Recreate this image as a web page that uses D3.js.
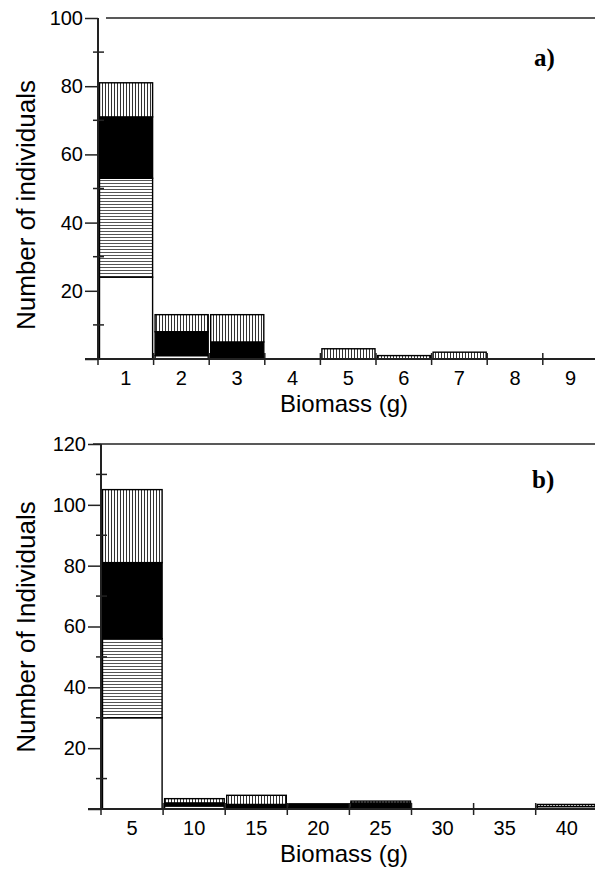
<!DOCTYPE html>
<html>
<head>
<meta charset="utf-8">
<script src="https://cdn.jsdelivr.net/npm/d3@7"></script>
<style>
  body { margin: 0; background: #fff; }
  svg { display: block; }
  text { font-family: "Liberation Sans", Arial, sans-serif; fill: #000; }
</style>
</head>
<body>
<div id="chart"></div>
<script>
// panel a) data
const binsA = ["1", "2", "3", "4", "5", "6", "7", "8", "9"];
const whiteA = [24, 1, 0, 0, 0, 0, 0, 0, 0];
const horizA = [29, 0, 0, 0, 0, 0, 0, 0, 0];
const blackA = [18, 7, 5, 0, 0, 0, 0, 0, 0];
const vertA  = [10, 5, 8, 0, 3, 1, 2, 0, 0];
const yTicksA = [0, 20, 40, 60, 80, 100];

// panel b) data
const binsB = ["5", "10", "15", "20", "25", "30", "35", "40"];
const whiteB = [30, 1, 0, 0.5, 0.5, 0, 0, 0.8];
const horizB = [26, 0, 0, 0, 0, 0, 0, 0];
const blackB = [25, 1, 1.5, 1.2, 1.5, 0, 0, 0];
const vertB  = [24, 1.4, 3, 0, 0.6, 0, 0, 0.7];
const yTicksB = [0, 20, 40, 60, 80, 100, 120];

const W = 595, H = 872;

const svg = d3.select("#chart")
    .append("svg")
    .attr("width", W)
    .attr("height", H);

// hatch patterns
const defs = svg.append("defs");
defs.append("pattern")
    .attr("id", "vhatch")
    .attr("patternUnits", "userSpaceOnUse")
    .attr("width", 3).attr("height", 3)
    .call(p => {
        p.append("rect").attr("width", 3).attr("height", 3).attr("fill", "#fff");
        p.append("line").attr("x1", 0.5).attr("x2", 0.5).attr("y1", 0).attr("y2", 3)
            .attr("stroke", "#333").attr("stroke-width", 1);
    });
defs.append("pattern")
    .attr("id", "hhatch")
    .attr("patternUnits", "userSpaceOnUse")
    .attr("width", 3).attr("height", 3)
    .call(p => {
        p.append("rect").attr("width", 3).attr("height", 3).attr("fill", "#fff");
        p.append("line").attr("x1", 0).attr("x2", 3).attr("y1", 0.5).attr("y2", 0.5)
            .attr("stroke", "#555").attr("stroke-width", 1);
    });

const fills = ["#fff", "url(#hhatch)", "#000", "url(#vhatch)"];

function drawPanel(cfg) {
    const g = svg.append("g");

    const x = d3.scaleBand()
        .domain(cfg.bins)
        .range([cfg.left, cfg.left + cfg.bandW * cfg.bins.length])
        .padding(0);

    const y = d3.scaleLinear()
        .domain([0, cfg.yMax])
        .range([cfg.bottom, cfg.top]);

    // stacked rows
    const rows = cfg.bins.map((b, i) => ({
        bin: b, s0: cfg.series[0][i], s1: cfg.series[1][i], s2: cfg.series[2][i], s3: cfg.series[3][i]
    }));
    const stack = d3.stack().keys(["s0", "s1", "s2", "s3"])(rows);

    stack.forEach((layer, k) => {
        g.append("g")
            .selectAll("rect")
            .data(layer.filter(d => d[1] - d[0] > 0))
            .enter()
            .append("rect")
            .attr("x", d => x(d.data.bin) + 1.5)
            .attr("width", x.bandwidth() - 2.5)
            .attr("y", d => y(d[1]))
            .attr("height", d => y(d[0]) - y(d[1]))
            .attr("fill", fills[k])
            .attr("stroke", "#000")
            .attr("stroke-width", 1.4);
    });

    // top frame line
    g.append("line")
        .attr("x1", cfg.frameX).attr("x2", W)
        .attr("y1", cfg.top).attr("y2", cfg.top)
        .attr("stroke", "#222").attr("stroke-width", 1.5);

    // y axis
    const yAxis = g.append("g").attr("transform", `translate(${cfg.left},0)`)
        .call(d3.axisLeft(y).tickValues(cfg.yTicks).tickSize(13)
            .tickFormat(d => d === 0 ? "" : d).tickPadding(2));
    yAxis.select(".domain").remove();
    yAxis.selectAll(".tick line").attr("stroke", "#222").attr("stroke-width", 1.5);
    yAxis.selectAll(".tick text").style("font-size", "20px").attr("fill", "#000");

    const minor = d3.range(10, cfg.yMax, 20);
    g.append("g").selectAll("line").data(minor).enter().append("line")
        .attr("x1", cfg.left - 5).attr("x2", cfg.left + 6)
        .attr("y1", d => y(d)).attr("y2", d => y(d))
        .attr("stroke", "#222").attr("stroke-width", 1.5);

    g.append("line")
        .attr("x1", cfg.left).attr("x2", cfg.left)
        .attr("y1", cfg.top).attr("y2", cfg.bottom)
        .attr("stroke", "#222").attr("stroke-width", 2);

    // x axis
    g.append("line")
        .attr("x1", cfg.left - 13).attr("x2", W)
        .attr("y1", cfg.bottom).attr("y2", cfg.bottom)
        .attr("stroke", "#222").attr("stroke-width", 2);

    const edges = cfg.bins.map(b => x(b));
    g.append("g").selectAll("line").data(edges).enter().append("line")
        .attr("x1", d => d).attr("x2", d => d)
        .attr("y1", cfg.bottom - 6).attr("y2", cfg.bottom + 6)
        .attr("stroke", "#222").attr("stroke-width", 1.5);

    g.append("g").selectAll("text").data(cfg.bins).enter().append("text")
        .attr("x", d => x(d) + x.bandwidth() / 2)
        .attr("y", cfg.bottom + 26)
        .attr("text-anchor", "middle")
        .style("font-size", "20px")
        .text(d => d);

    g.append("text")
        .attr("x", cfg.xTitleX)
        .attr("y", cfg.bottom + 53)
        .attr("text-anchor", "middle")
        .style("font-size", "24px")
        .text("Biomass (g)");

    g.append("text")
        .attr("transform", `translate(35,${cfg.yTitleY}) rotate(-90)`)
        .attr("text-anchor", "middle")
        .style("font-size", "26px")
        .text(cfg.yTitle);

    g.append("text")
        .attr("x", cfg.tagX)
        .attr("y", cfg.tagY)
        .style("font-family", "'Liberation Serif', 'Times New Roman', serif")
        .style("font-weight", "bold")
        .style("font-size", "25px")
        .text(cfg.tag);
}

drawPanel({
    bins: binsA, series: [whiteA, horizA, blackA, vertA], yTicks: yTicksA, yMax: 100,
    left: 98, bandW: 55.6, top: 18, bottom: 359, frameX: 106,
    xTitleX: 344, yTitleY: 205, yTitle: "Number of individuals",
    tag: "a)", tagX: 534, tagY: 66
});

drawPanel({
    bins: binsB, series: [whiteB, horizB, blackB, vertB], yTicks: yTicksB, yMax: 120,
    left: 101, bandW: 62.1, top: 444, bottom: 809, frameX: 93,
    xTitleX: 344, yTitleY: 627, yTitle: "Number of Individuals",
    tag: "b)", tagX: 532, tagY: 488
});
</script>
</body>
</html>
